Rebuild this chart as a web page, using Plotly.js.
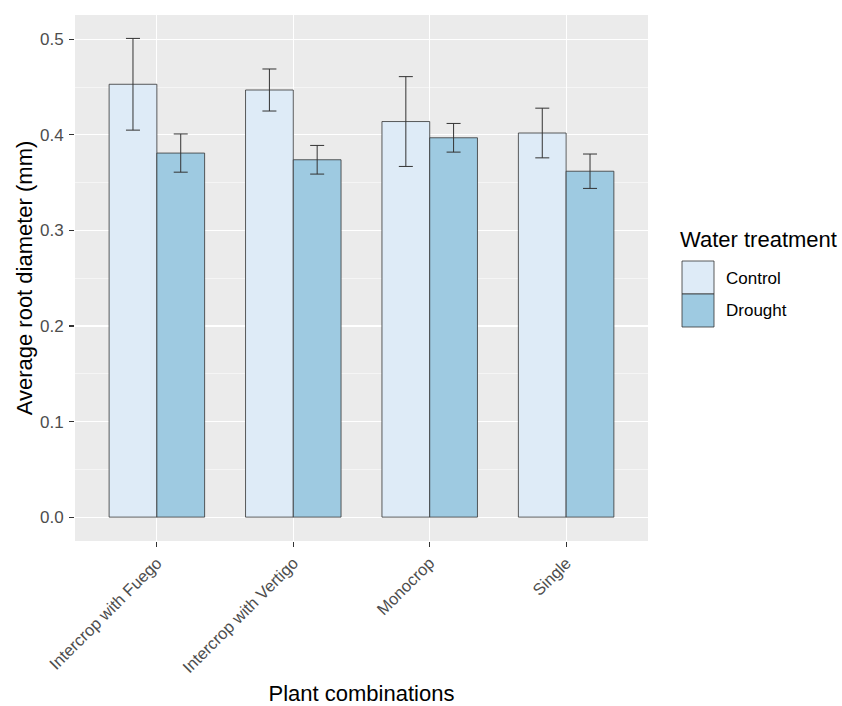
<!DOCTYPE html>
<html>
<head>
<meta charset="utf-8">
<script src="https://cdn.plot.ly/plotly-3.0.1.min.js"></script>
<style>
  html, body { margin: 0; padding: 0; background: #ffffff; }
  #chart { width: 842px; height: 706px; }
</style>
</head>
<body>
<div id="chart"></div>
<script>
// Average root diameter by plant combination and water treatment (mean ± error)
const categories = ["Intercrop with Fuego", "Intercrop with Vertigo", "Monocrop", "Single"];
const seriesNames = ["Control", "Drought"];
const controlMean = [0.453, 0.447, 0.414, 0.402];
const controlErr  = [0.048, 0.022, 0.047, 0.026];
const droughtMean = [0.381, 0.374, 0.397, 0.362];
const droughtErr  = [0.020, 0.015, 0.015, 0.018];
const yTicks = [0.0, 0.1, 0.2, 0.3, 0.4, 0.5];
const yTickText = ["0.0", "0.1", "0.2", "0.3", "0.4", "0.5"];

const fills = ["#DEEBF7", "#9ECAE1"];
const outline = "#333333";
const fontFamily = "Liberation Sans, Arial, sans-serif";

function barTrace(name, y, err, fill) {
  return {
    type: "bar",
    name: name,
    x: categories,
    y: y,
    marker: { color: fill, line: { color: outline, width: 0.8 } },
    error_y: { type: "data", array: err, visible: true, color: outline, thickness: 1, width: 7 },
    showlegend: false,
    hoverinfo: "x+y"
  };
}

const data = [
  barTrace(seriesNames[0], controlMean, controlErr, fills[0]),
  barTrace(seriesNames[1], droughtMean, droughtErr, fills[1])
];

// Legend keys drawn in pixel terms, converted to paper coordinates
const W = 842, H = 706;
const M = { l: 75, r: 194, t: 15, b: 165 };
const plotW = W - M.l - M.r;
const plotH = H - M.t - M.b;
function px(pixX) { return (pixX - M.l) / plotW; }
function py(pixY) { return (H - M.b - pixY) / plotH; }

const shapes = [];
const annotations = [];
seriesNames.forEach(function (nm, i) {
  const top = 261 + i * 33;
  shapes.push({
    type: "rect", xref: "paper", yref: "paper",
    x0: px(682), x1: px(714), y0: py(top + 33), y1: py(top),
    fillcolor: fills[i], line: { color: outline, width: 0.8 }
  });
  annotations.push({
    xref: "paper", yref: "paper", x: px(724), y: py(top + 17),
    xanchor: "left", yanchor: "middle", showarrow: false,
    text: nm, font: { family: fontFamily, size: 17, color: "#000000" }
  });
});
annotations.push({
  xref: "paper", yref: "paper", x: px(678), y: py(239),
  xanchor: "left", yanchor: "middle", showarrow: false,
  text: "Water treatment", font: { family: fontFamily, size: 22, color: "#000000" }
});

const layout = {
  width: W,
  height: H,
  margin: M,
  paper_bgcolor: "#ffffff",
  plot_bgcolor: "#EBEBEB",
  font: { family: fontFamily, color: "#4D4D4D" },
  barmode: "group",
  bargap: 0.3,
  bargroupgap: 0,
  showlegend: false,
  xaxis: {
    type: "category",
    range: [-0.6, 3.6],
    showgrid: true,
    gridcolor: "#ffffff",
    gridwidth: 1.1,
    zeroline: false,
    showline: false,
    ticks: "outside",
    ticklen: 5,
    tickwidth: 1.1,
    tickcolor: "#333333",
    tickangle: -45,
    tickfont: { size: 16.5, color: "#4D4D4D" },
    title: { text: "Plant combinations", font: { size: 22, color: "#000000" }, standoff: 12 }
  },
  yaxis: {
    range: [-0.025, 0.5255],
    tickmode: "array",
    tickvals: yTicks,
    ticktext: yTickText,
    showgrid: true,
    gridcolor: "#ffffff",
    gridwidth: 1.1,
    minor: { dtick: 0.05, tick0: 0.05, showgrid: true, gridcolor: "#ffffff", gridwidth: 0.5, ticks: "" },
    zeroline: false,
    showline: false,
    ticks: "outside",
    ticklen: 5,
    tickwidth: 1.1,
    tickcolor: "#333333",
    ticklabelstandoff: 2,
    tickfont: { size: 17, color: "#4D4D4D" },
    title: { text: "Average root diameter (mm)", font: { size: 22, color: "#000000" }, standoff: 1 }
  },
  shapes: shapes,
  annotations: annotations
};

Plotly.newPlot("chart", data, layout, { displayModeBar: false, staticPlot: true });
</script>
</body>
</html>
